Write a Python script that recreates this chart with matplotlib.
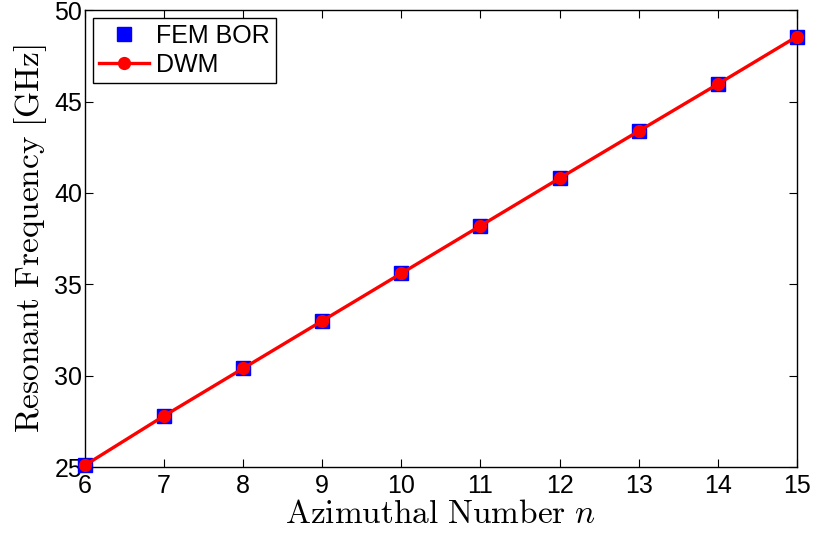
import numpy as np
import matplotlib.pyplot as plt

plt.rcParams['font.family'] = ['Liberation Sans', 'DejaVu Sans']
plt.rcParams['mathtext.fontset'] = 'cm'

n = [6, 7, 8, 9, 10, 11, 12, 13, 14, 15]
fem_bor = [25.1, 27.8, 30.4, 33.0, 35.6, 38.2, 40.8, 43.38, 45.95, 48.55]
dwm = [25.1, 27.8, 30.4, 33.0, 35.6, 38.2, 40.8, 43.38, 45.95, 48.55]

fig = plt.figure(figsize=(8.13, 5.36), dpi=100)
ax = fig.add_axes([0.1046, 0.1287, 0.8754, 0.8523])

ax.plot(n, fem_bor, 's', color='blue', markersize=10, label='FEM BOR', zorder=2, clip_on=False)
ax.plot(n, dwm, '-o', color='red', linewidth=2.4, markersize=8.5, label='DWM', zorder=3, clip_on=False)

ax.set_xlim(6, 15)
ax.set_ylim(25, 50)
ax.set_xticks(range(6, 16))
ax.set_yticks(range(25, 51, 5))
ax.tick_params(direction='in', top=True, right=True, labelsize=18, length=6, pad=2)
ax.tick_params(axis='x', pad=5)
for s in ax.spines.values():
    s.set_linewidth(1.0)

ax.set_xlabel(r'$\mathrm{Azimuthal\ Number}\ n$', fontsize=24, labelpad=1)
ax.set_ylabel(r'$\mathrm{Resonant\ Frequency\ [GHz]}$', fontsize=24, labelpad=4)

leg = ax.legend(loc='upper left', fontsize=18, fancybox=False, edgecolor='black',
                framealpha=1, borderaxespad=0.3, handlelength=2.0, handletextpad=0.3,
                labelspacing=0.2, borderpad=0.25)
leg.get_frame().set_linewidth(1.0)

fig.savefig('out.png', dpi=100)
